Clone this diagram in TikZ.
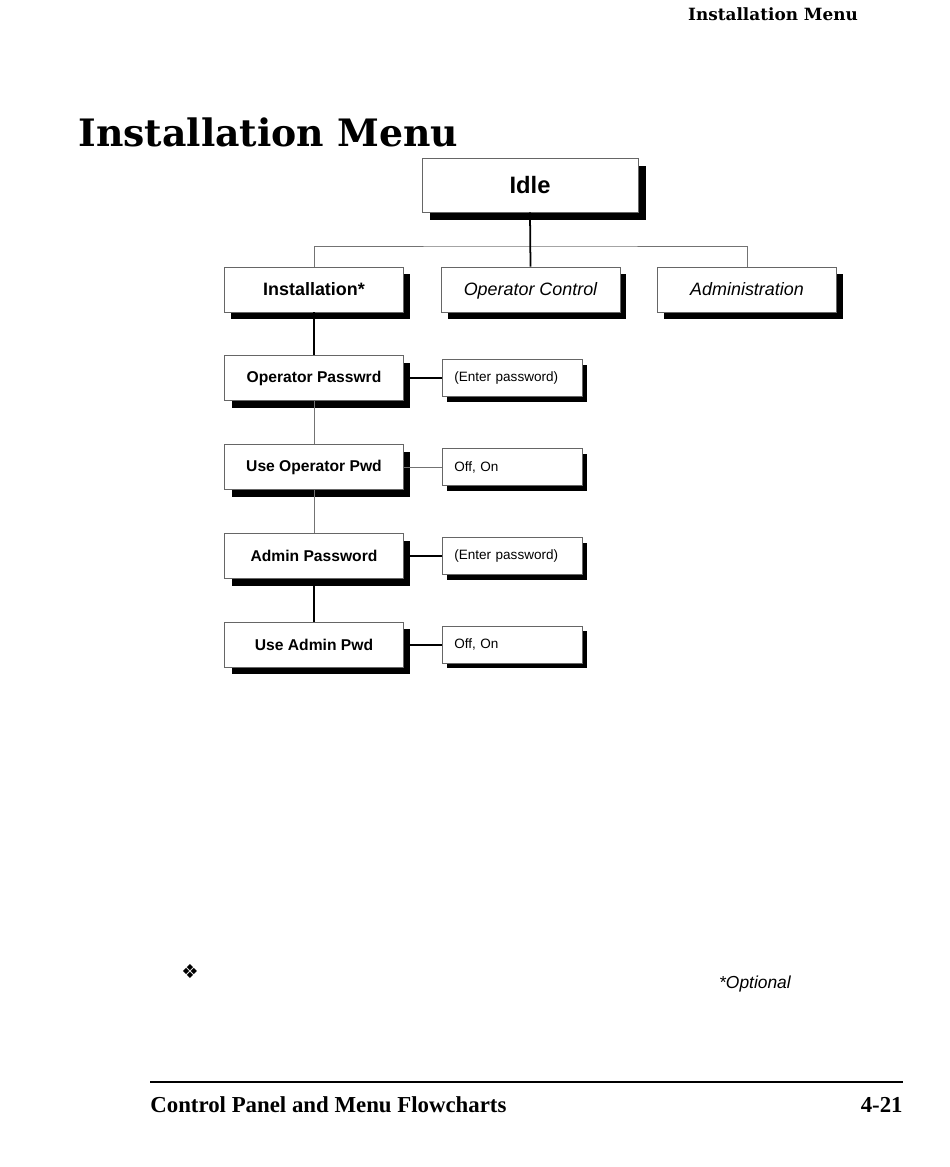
\documentclass[tikz,border=0pt]{standalone}
\usepackage{fontspec}
\setmainfont{Liberation Sans}
\newfontfamily\headfont{DejaVu Serif}
\newfontfamily\footfont{Liberation Serif}
\newfontfamily\symfont{DejaVu Sans}
\usetikzlibrary{shadows, positioning}

\begin{document}
\begin{tikzpicture}[
    x=0.02cm, y=-0.02cm,
    node distance=0.86cm and 0.76cm,
    blackshadow/.style={drop shadow={shadow xshift=#1, shadow yshift=-#1, fill=black, opacity=1}},
    topbox/.style={rectangle, draw=black!60, fill=white, line width=0.5pt, minimum width=4.32cm, minimum height=1.08cm, font=\fontsize{13.5}{16}\selectfont\bfseries, blackshadow=0.16cm},
    menubox/.style={rectangle, draw=black!60, fill=white, line width=0.5pt, minimum width=3.58cm, minimum height=0.9cm, text height=1.6ex, text depth=0.4ex, font=\fontsize{10.2}{12}\selectfont, blackshadow=0.13cm},
    itembox/.style={rectangle, draw=black!60, fill=white, line width=0.5pt, minimum width=3.58cm, minimum height=0.9cm, font=\fontsize{8.9}{11}\selectfont\bfseries, blackshadow=0.14cm},
    valbox/.style={rectangle, draw=black!60, fill=white, line width=0.5pt, text width=2.32cm, inner xsep=0.24cm, minimum height=0.74cm, align=left, font=\fontsize{7.7}{9}\selectfont, blackshadow=0.1cm},
    thinline/.style={draw=black!55, line width=0.5pt},
    thickline/.style={draw=black, line width=1pt}
]
\useasboundingbox (0,0) rectangle (950,1167);

% page header and title
\node (header) [anchor=base, font=\headfont\fontsize{9.6}{11}\selectfont\bfseries] at (773,20) {Installation Menu};
\node (title) [anchor=base west, inner sep=0pt, font=\headfont\fontsize{21.5}{26}\selectfont\bfseries] at (78,146) {Installation Menu};

% menu tree
\node (idle) [topbox] at (530,185) {Idle};
\node (inst) [menubox] at (314,289.5) {\bfseries Installation*};
\node (opctl) [menubox] at (530.5,289.5) {\itshape Operator Control};
\node (admin) [menubox] at (747,289.5) {\itshape Administration};

\node (oppw) [itembox, below=of inst] {Operator Passwrd};
\node (useop) [itembox, below=of oppw] {Use Operator Pwd};
\node (adpw) [itembox, below=of useop] {Admin Password};
\node (usead) [itembox, below=of adpw] {Use Admin Pwd};

\node (oppwval) [valbox, right=of oppw] {(Enter password)};
\node (useopval) [valbox, right=of useop] {Off, On};
\node (adpwval) [valbox, right=of adpw] {(Enter password)};
\node (useadval) [valbox, right=of usead] {Off, On};

\coordinate (bus) at (530,246);
\draw [thinline] (inst.north) |- (bus) -| (admin.north);
\draw [thickline] (idle.south) -- (opctl.north);

\draw [thickline] (inst) -- (oppw);
\draw [thinline] (oppw) -- (useop);
\draw [thinline] (useop) -- (adpw);
\draw [thickline] (adpw) -- (usead);

\draw [thickline] (oppw) -- (oppwval);
\draw [thinline] (useop) -- (useopval);
\draw [thickline] (adpw) -- (adpwval);
\draw [thickline] (usead) -- (useadval);

% notes and footer
\node (mark) [font=\symfont\fontsize{11}{13}\selectfont] at (190,971) {❖};
\node (optional) [font=\fontsize{9.9}{12}\selectfont\itshape] at (755,984) {*Optional};
\coordinate (ruleL) at (150,1082);
\coordinate (ruleR) at (903,1082);
\draw [line width=0.7pt] (ruleL) -- (ruleR);
\node (chapter) [anchor=base west, inner sep=0pt, font=\footfont\fontsize{13}{15}\selectfont\bfseries] at (150,1112) {Control Panel and Menu Flowcharts};
\node (page) [anchor=base east, inner sep=0pt, font=\footfont\fontsize{13}{15}\selectfont\bfseries] at (903,1112) {4-21};
\end{tikzpicture}
\end{document}
